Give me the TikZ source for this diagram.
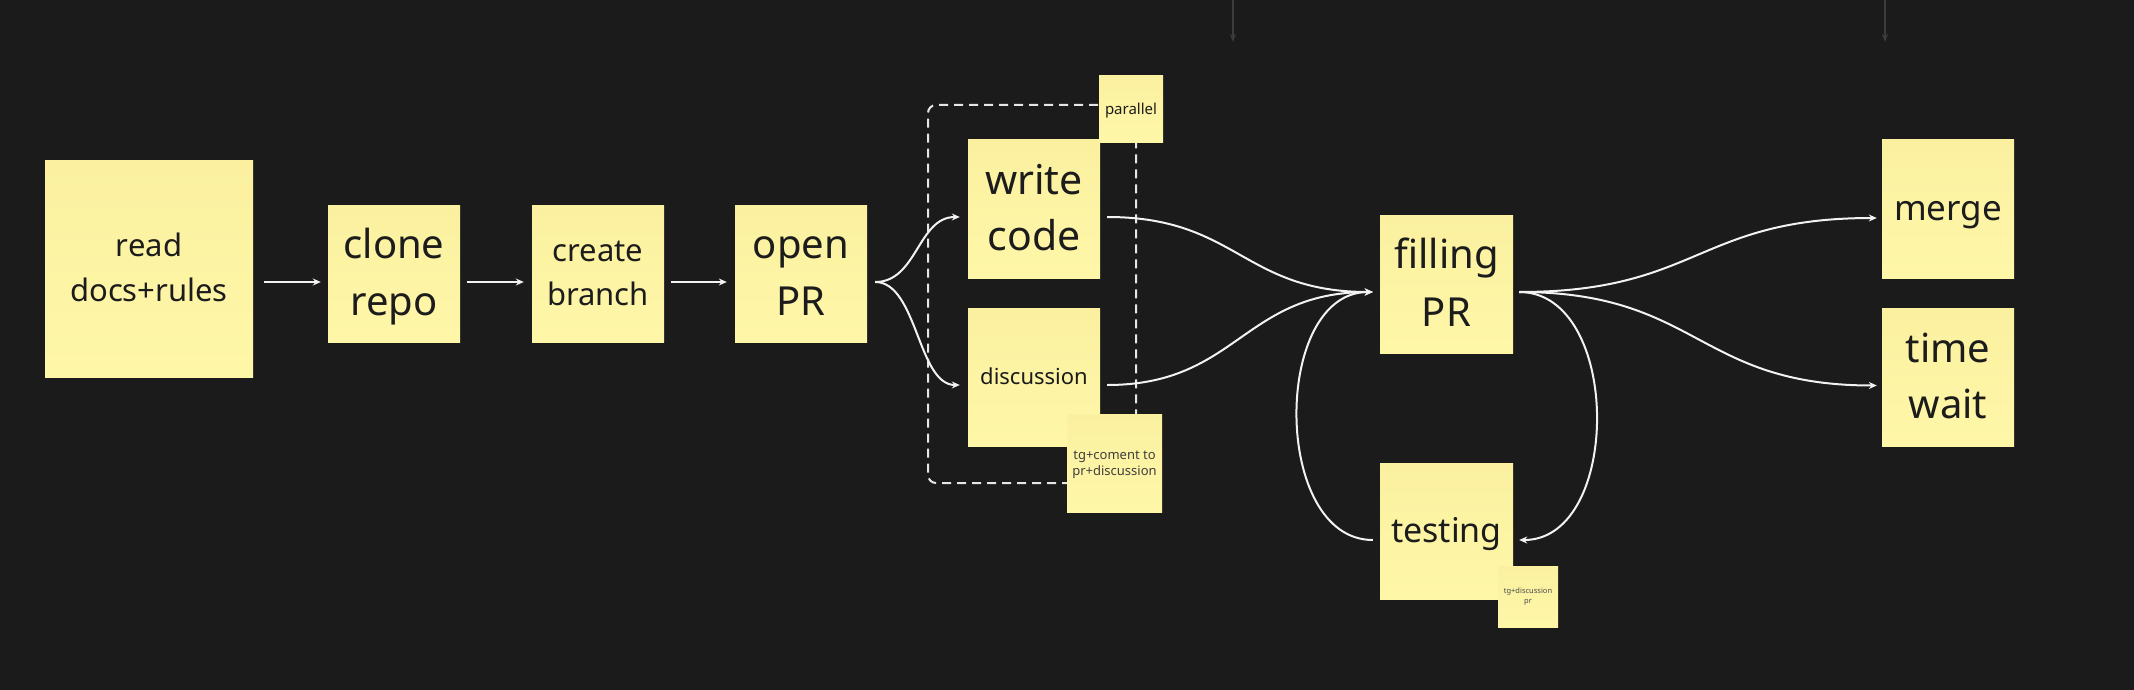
\documentclass[tikz,border=0pt]{standalone}
\usepackage{fontspec}
\setmainfont{Noto Sans}
\usetikzlibrary{calc,arrows.meta}
\definecolor{bg}{HTML}{1B1B1B}
\definecolor{stT}{HTML}{FAF0A0}
\definecolor{stB}{HTML}{FFF7A8}
\definecolor{ink}{HTML}{1C1C1C}
\definecolor{wire}{HTML}{F2F2F2}
\definecolor{dim}{HTML}{3C3C3C}
\definecolor{dash}{HTML}{E6E6E6}
\newcommand{\sst}{\rule[-0.24em]{0pt}{1.14em}}
\tikzset{
  sticky/.style={rectangle, inner sep=0pt, top color=stT, bottom color=stB, draw=none, text=ink, align=center},
  arr/.style={draw=wire, line width=2pt, -{Stealth[length=8pt,width=7pt]}},
  dimarr/.style={draw=dim, line width=1.5pt, -{Stealth[length=8pt,width=6pt]}},
  grpbox/.style={draw=dash, line width=2pt, dash pattern=on 9pt off 6pt, rounded corners=8pt, inner sep=0pt}
}
\begin{document}
\begin{tikzpicture}[x=1pt,y=-1pt]
\fill[bg] (0,0) rectangle (2134,690);
\useasboundingbox (0,0) rectangle (2134,690);

% faint arrows from above
\coordinate (u1) at (1233,0); \coordinate (u1e) at (1233,42);
\coordinate (u2) at (1885,0); \coordinate (u2e) at (1885,42);
\draw[dimarr] (u1) -- (u1e);
\draw[dimarr] (u2) -- (u2e);

% parallel group frame
\node[grpbox, minimum width=208pt, minimum height=378pt] (grp) at (1032,294) {};

% sticky notes
\node[sticky, minimum width=208pt, minimum height=216pt, font=\fontsize{31}{45}\selectfont] (read) at (149,269) {\sst read\\\sst docs+rules};
\node[sticky, minimum width=132pt, minimum height=137pt, font=\fontsize{40}{57}\selectfont] (clone) at (394,273.5) {\sst clone\\\sst repo};
\node[sticky, minimum width=132pt, minimum height=137pt, font=\fontsize{31}{44}\selectfont] (create) at (598,273.5) {\sst create\\\sst branch};
\node[sticky, minimum width=132pt, minimum height=137pt, font=\fontsize{40}{57}\selectfont] (open) at (801,273.5) {\sst open\\\sst PR};
\node[sticky, minimum width=132pt, minimum height=138pt, font=\fontsize{41}{56}\selectfont] (write) at (1034,209) {\sst write\\\sst code};
\node[sticky, minimum width=132pt, minimum height=138pt, font=\fontsize{22}{31}\selectfont] (disc) at (1034,377) {\sst discussion};
\node[sticky, minimum width=64pt, minimum height=67pt, font=\fontsize{15}{21}\selectfont] (par) at (1131,109.5) {\sst parallel};
\node[sticky, minimum width=95pt, minimum height=98pt, font=\fontsize{13}{16.5}\selectfont, text=ink!85] (tgcom) at (1114.5,463) {\sst tg+coment to\\\sst pr+discussion};
\node[sticky, minimum width=133pt, minimum height=138pt, font=\fontsize{40}{58}\selectfont] (fill) at (1446.5,284) {\sst filling\\\sst PR};
\node[sticky, minimum width=133pt, minimum height=136pt, font=\fontsize{34}{48}\selectfont] (test) at (1446.5,531) {\sst testing};
\node[sticky, minimum width=60pt, minimum height=61pt, font=\fontsize{7.5}{10}\selectfont, text=ink!80] (tgdisc) at (1528,596.5) {\sst tg+discussion\\\sst pr};
\node[sticky, minimum width=132pt, minimum height=138pt, font=\fontsize{35}{50}\selectfont] (merge) at (1948,209) {\sst merge};
\node[sticky, minimum width=132pt, minimum height=138pt, font=\fontsize{40}{56}\selectfont] (wait) at (1948,377) {\sst time\\\sst wait};

% straight connectors
\draw[arr] ($(read.east)+(11,13)$) -- ($(clone.west)+(-7,8.5)$);
\draw[arr] ($(clone.east)+(7,8.5)$) -- ($(create.west)+(-8,8.5)$);
\draw[arr] ($(create.east)+(7,8.5)$) -- ($(open.west)+(-8,8.5)$);

% fork from open PR
\draw[arr] ($(open.east)+(8,8.5)$) .. controls +(42,0) and +(-42,0) .. ($(write.west)+(-8,8)$);
\draw[arr] ($(open.east)+(8,8.5)$) .. controls +(42,0) and +(-42,0) .. ($(disc.west)+(-8,8)$);

% join into filling PR
\draw[arr] ($(write.east)+(7,8)$) .. controls +(130,0) and +(-130,0) .. ($(fill.west)+(-7,8)$);
\draw[arr] ($(disc.east)+(7,8)$) .. controls +(130,0) and +(-130,0) .. ($(fill.west)+(-7,8)$);

% testing loop
\draw[arr] ($(test.west)+(-7,9)$) .. controls +(-101,0) and +(-101,0) .. ($(fill.west)+(-7,8)$);
\draw[arr] ($(fill.east)+(6,8)$) .. controls +(103,0) and +(103,0) .. ($(test.east)+(6,9)$);

% outputs
\draw[arr] ($(fill.east)+(6,8)$) .. controls +(180,0) and +(-180,0) .. ($(merge.west)+(-5,9)$);
\draw[arr] ($(fill.east)+(6,8)$) .. controls +(180,0) and +(-180,0) .. ($(wait.west)+(-5,8.5)$);
\end{tikzpicture}
\end{document}
